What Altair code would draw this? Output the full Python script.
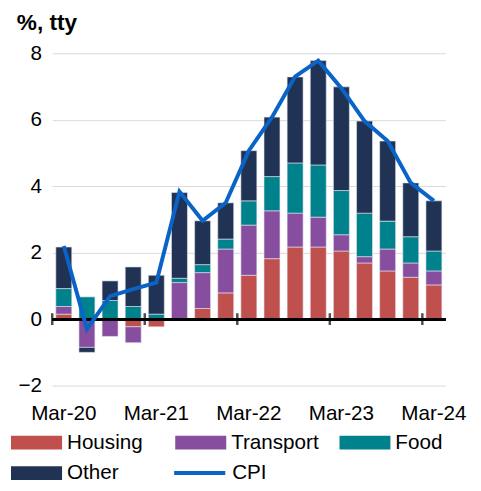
import altair as alt
import pandas as pd

quarters = ["Mar-20", "Jun-20", "Sep-20", "Dec-20", "Mar-21", "Jun-21", "Sep-21", "Dec-21",
            "Mar-22", "Jun-22", "Sep-22", "Dec-22", "Mar-23", "Jun-23", "Sep-23", "Dec-23", "Mar-24"]
housing = [0.15, 0.0, 0.0, -0.23, -0.23, 0.0, 0.32, 0.79, 1.32, 1.82, 2.17, 2.17, 2.05, 1.69, 1.45, 1.26, 1.03]
transport = [0.23, -0.85, -0.52, -0.48, 0.0, 1.10, 1.08, 1.32, 1.51, 1.44, 1.02, 0.90, 0.49, 0.19, 0.66, 0.43, 0.42]
food = [0.54, 0.67, 0.56, 0.38, 0.15, 0.13, 0.24, 0.30, 0.73, 1.03, 1.51, 1.57, 1.33, 1.31, 0.84, 0.79, 0.60]
other = [1.25, -0.15, 0.59, 1.19, 1.17, 2.58, 1.32, 1.09, 1.51, 1.79, 2.59, 3.14, 3.12, 2.77, 2.41, 1.62, 1.51]
cpi = [2.2, -0.3, 0.69, 0.9, 1.1, 3.84, 2.96, 3.5, 5.07, 6.08, 7.3, 7.78, 6.95, 5.96, 5.36, 4.1, 3.56]

bar_series = ["Housing", "Transport", "Food", "Other"]
bar_colors = ["#C0504D", "#874D9E", "#00828C", "#203354"]
line_series = ["CPI"]
line_colors = ["#0A63C6"]
tick_quarters = ["Mar-20", "Mar-21", "Mar-22", "Mar-23", "Mar-24"]
y_ticks = [-2, 0, 2, 4, 6, 8]

rows = []
for order, (name, vals) in enumerate(zip(bar_series, [housing, transport, food, other])):
    for q, v in zip(quarters, vals):
        rows.append({"q": q, "series": name, "value": v, "order": order})
bars_df = pd.DataFrame(rows)
cpi_df = pd.DataFrame({"q": quarters, "cpi": cpi, "name": "CPI"})
ticks_df = pd.DataFrame({"q": tick_quarters})

FONT = "Liberation Sans"

xscale = alt.Scale(domain=quarters, paddingInner=0.31, paddingOuter=0.155)
yscale = alt.Scale(domain=[-2, 8], nice=False)

bar_legend = alt.Legend(
    title=None, orient="none", legendX=-42, legendY=384, columns=3,
    direction="horizontal",
    symbolType="M-1,-0.27L1,-0.27L1,0.27L-1,0.27Z",
    symbolSize=2704, clipHeight=24, rowPadding=7, columnPadding=20,
    gridAlign="all", labelOffset=5, labelFontSize=21, labelFont=FONT,
    labelColor="#000000", symbolStrokeWidth=0,
)
line_legend = alt.Legend(
    title=None, orient="none", legendX=122, legendY=415,
    symbolType="stroke", symbolSize=2704, symbolStrokeWidth=4, clipHeight=24,
    labelOffset=5, labelFontSize=21, labelFont=FONT, labelColor="#000000",
)

bars = alt.Chart(bars_df).mark_bar(stroke="#e6e6f0", strokeWidth=0.6).encode(
    x=alt.X("q:N", scale=xscale, sort=quarters, title=None,
            axis=alt.Axis(values=tick_quarters, labelAngle=0, domain=False, ticks=False,
                          tickSize=0, labelPadding=18, labelFontSize=21, labelFont=FONT,
                          labelColor="#000000", grid=False)),
    y=alt.Y("value:Q", scale=yscale, stack="zero", title=None,
            axis=alt.Axis(values=y_ticks, domain=False, ticks=False, tickSize=0,
                          labelPadding=11, labelFontSize=21, labelFont=FONT,
                          labelColor="#000000", grid=True, gridColor="#d9d9d9",
                          gridWidth=1)),
    color=alt.Color("series:N", scale=alt.Scale(domain=bar_series, range=bar_colors),
                    legend=bar_legend),
    order=alt.Order("order:Q"),
)

zero = alt.Chart(cpi_df).mark_rule(color="#000000", strokeWidth=2.5).encode(
    y=alt.datum(0),
)

ticks = alt.Chart(ticks_df).mark_tick(orient="vertical", color="#000000", size=12,
                                      thickness=2.5, xOffset=-3.65).encode(
    x=alt.X("q:N", scale=xscale, sort=quarters, bandPosition=0),
    y=alt.datum(0),
)

line = alt.Chart(cpi_df).mark_line(strokeWidth=4).encode(
    x=alt.X("q:N", scale=xscale, sort=quarters),
    y=alt.Y("cpi:Q", scale=yscale),
    stroke=alt.Stroke("name:N", scale=alt.Scale(domain=line_series, range=line_colors),
                      legend=line_legend),
)

chart = alt.layer(bars, zero, ticks, line).properties(
    width=400, height=338,
    title=alt.TitleParams("%, tty", anchor="start", fontSize=23, font=FONT,
                          fontWeight="bold", color="#000000", dx=6, offset=8),
    autosize=alt.AutoSizeParams(type="none"),
    padding={"left": 45, "top": 42, "right": 28, "bottom": 95},
).configure_view(stroke=None)

chart.save("out.html", embed_options={"renderer": "svg", "actions": False})
